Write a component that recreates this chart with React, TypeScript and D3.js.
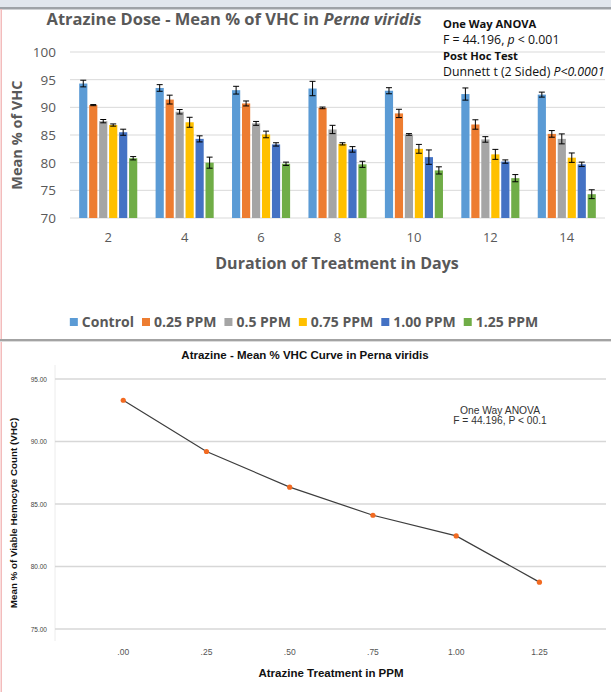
import React from 'react';
import * as d3 from 'd3';

// ---- bar chart data (mean % VHC by day and dose) ----
const days = ['2', '4', '6', '8', '10', '12', '14'];
const doses = ['Control', '0.25 PPM', '0.5 PPM', '0.75 PPM', '1.00 PPM', '1.25 PPM'];
const doseColors = ['#5B9BD5', '#ED7D31', '#A5A5A5', '#FFC000', '#4472C4', '#70AD47'];

const controlMean = [94.3, 93.5, 93.1, 93.4, 93.0, 92.4, 92.3];
const controlErr = [0.6, 0.6, 0.7, 1.3, 0.55, 1.1, 0.45];
const ppm025Mean = [90.4, 91.4, 90.7, 89.9, 88.9, 86.9, 85.2];
const ppm025Err = [0.1, 0.8, 0.45, 0.15, 0.75, 0.85, 0.6];
const ppm05Mean = [87.5, 89.2, 87.1, 86.0, 85.1, 84.2, 84.3];
const ppm05Err = [0.3, 0.4, 0.35, 0.75, 0.15, 0.5, 0.9];
const ppm075Mean = [86.8, 87.3, 85.1, 83.4, 82.5, 81.5, 80.9];
const ppm075Err = [0.2, 0.9, 0.6, 0.2, 0.8, 0.9, 0.85];
const ppm100Mean = [85.5, 84.3, 83.3, 82.4, 81.0, 80.2, 79.7];
const ppm100Err = [0.55, 0.55, 0.3, 0.5, 1.3, 0.3, 0.4];
const ppm125Mean = [80.8, 80.0, 79.8, 79.7, 78.6, 77.2, 74.3];
const ppm125Err = [0.3, 1.0, 0.3, 0.55, 0.65, 0.65, 0.8];

const barTicks = [70, 75, 80, 85, 90, 95, 100];

// ---- curve data (mean over all days) ----
const ppmLevels = [0, 0.25, 0.5, 0.75, 1.0, 1.25];
const ppmTickLabels = ['.00', '.25', '.50', '.75', '1.00', '1.25'];
const curveMean = [93.3, 89.2, 86.35, 84.1, 82.45, 78.75];
const curveTicks = [75, 80, 85, 90, 95];

const W = 611, H = 692;
const GREY = '#595959';
const SANS = '"Open Sans", sans-serif';
const ARIAL = '"Liberation Sans", Arial, sans-serif';

export default function App() {
  const ref = React.useRef<SVGSVGElement>(null);

  React.useEffect(() => {
    if (!ref.current) return;
    const svg = d3.select(ref.current);
    svg.selectAll('*').remove();

    svg.append('rect').attr('width', W).attr('height', H).attr('fill', '#fff');
    // window frame bits
    svg.append('rect').attr('x', 0).attr('y', 0).attr('width', W).attr('height', 7).attr('fill', '#e1e6ed');
    svg.append('rect').attr('x', 0).attr('y', 7).attr('width', W).attr('height', 2.5).attr('fill', '#9ea2a7');
    svg.append('rect').attr('x', 0.5).attr('y', 9).attr('width', 1.5).attr('height', H).attr('fill', '#f3bcbc');

    // ================= bar chart =================
    const series = [
      { mean: controlMean, err: controlErr },
      { mean: ppm025Mean, err: ppm025Err },
      { mean: ppm05Mean, err: ppm05Err },
      { mean: ppm075Mean, err: ppm075Err },
      { mean: ppm100Mean, err: ppm100Err },
      { mean: ppm125Mean, err: ppm125Err },
    ];

    const x0 = d3.scaleBand().domain(days).range([70, 605]).paddingInner(0.24).paddingOuter(0.12);
    const x1 = d3.scaleBand().domain(doses).range([0, x0.bandwidth()]).paddingInner(0.18);
    const y = d3.scaleLinear().domain([70, 100]).range([218, 52]);

    const g1 = svg.append('g');
    g1.selectAll('line.grid').data(barTicks).join('line')
      .attr('x1', 70).attr('x2', 605)
      .attr('y1', d => y(d)).attr('y2', d => y(d))
      .attr('stroke', '#d9d9d9').attr('stroke-width', 1);

    g1.selectAll('text.ytick').data(barTicks).join('text')
      .attr('x', 56).attr('y', d => y(d) + 5)
      .attr('text-anchor', 'end').attr('font-family', SANS).attr('font-size', 13.5)
      .attr('fill', GREY).text(d => d);

    days.forEach((day, i) => {
      const gx = x0(day)!;
      series.forEach((s, j) => {
        const bx = gx + x1(doses[j])!;
        const bw = x1.bandwidth();
        const v = s.mean[i], e = s.err[i];
        g1.append('rect')
          .attr('x', bx).attr('y', y(v)).attr('width', bw).attr('height', y(70) - y(v))
          .attr('fill', doseColors[j]);
        const cx = bx + bw / 2;
        g1.append('path')
          .attr('d', `M${cx},${y(v + e)}V${y(v - e)}M${cx - 3},${y(v + e)}H${cx + 3}M${cx - 3},${y(v - e)}H${cx + 3}`)
          .attr('stroke', '#000').attr('stroke-width', 1).attr('fill', 'none');
      });
      g1.append('text')
        .attr('x', gx + x0.bandwidth() / 2).attr('y', 242)
        .attr('text-anchor', 'middle').attr('font-family', SANS).attr('font-size', 13)
        .attr('fill', GREY).text(day);
    });

    const title = g1.append('text')
      .attr('x', 234).attr('y', 25).attr('text-anchor', 'middle')
      .attr('font-family', SANS).attr('font-size', 16.5).attr('font-weight', 700).attr('fill', GREY);
    title.append('tspan').text('Atrazine Dose - Mean % of VHC in ');
    title.append('tspan').attr('font-style', 'italic').text('Perna viridis');

    g1.append('text')
      .attr('transform', 'translate(22,135) rotate(-90)').attr('text-anchor', 'middle')
      .attr('font-family', SANS).attr('font-size', 14.5).attr('font-weight', 700).attr('fill', GREY)
      .text('Mean % of VHC');

    g1.append('text')
      .attr('x', 337).attr('y', 269).attr('text-anchor', 'middle')
      .attr('font-family', SANS).attr('font-size', 16).attr('font-weight', 700).attr('fill', GREY)
      .text('Duration of Treatment in Days');

    // stats note
    const note = g1.append('g').attr('font-family', SANS).attr('fill', '#111');
    note.append('text').attr('x', 443).attr('y', 28).attr('font-size', 11.2).attr('font-weight', 700).text('One Way ANOVA');
    const fl = note.append('text').attr('x', 443).attr('y', 44).attr('font-size', 12.3);
    fl.append('tspan').text('F = 44.196, ');
    fl.append('tspan').attr('font-style', 'italic').text('p');
    fl.append('tspan').text(' < 0.001');
    note.append('text').attr('x', 443).attr('y', 60).attr('font-size', 11.2).attr('font-weight', 700).text('Post Hoc Test');
    const dl = note.append('text').attr('x', 443).attr('y', 76).attr('font-size', 12.3);
    dl.append('tspan').text('Dunnett t (2 Sided) ');
    dl.append('tspan').attr('font-style', 'italic').text('P<0.0001');

    // legend
    const leg = g1.append('g');
    const items = doses.map((d, j) => {
      const it = leg.append('g');
      it.append('rect').attr('x', 0).attr('y', -4).attr('width', 8).attr('height', 8).attr('fill', doseColors[j]);
      const t = it.append('text').attr('x', 12).attr('y', 5)
        .attr('font-family', SANS).attr('font-size', 14).attr('font-weight', 700).attr('fill', GREY).text(d);
      return { it, w: 12 + (t.node() as SVGTextElement).getComputedTextLength() };
    });
    const gap = 8;
    const total = d3.sum(items, d => d.w) + gap * (items.length - 1);
    let lx = 304 - total / 2;
    items.forEach(({ it, w }) => { it.attr('transform', `translate(${lx},322)`); lx += w + gap; });

    // separator
    svg.append('rect').attr('x', 0).attr('y', 339).attr('width', W).attr('height', 2).attr('fill', '#a3a3a3');
    svg.append('rect').attr('x', 0).attr('y', 341).attr('width', W).attr('height', 1).attr('fill', '#dcdcdc');

    // ================= curve chart =================
    const xs = d3.scaleLinear().domain([-0.205, 1.45]).range([55, 606]);
    const ys = d3.scaleLinear().domain([75, 95]).range([629, 379]);
    const g2 = svg.append('g');

    g2.append('line').attr('x1', 55).attr('x2', 55).attr('y1', 365).attr('y2', 641)
      .attr('stroke', '#ececec').attr('stroke-width', 1);
    g2.selectAll('line.grid').data(curveTicks).join('line')
      .attr('x1', 55).attr('x2', 606)
      .attr('y1', d => ys(d)).attr('y2', d => ys(d))
      .attr('stroke', '#d7d7d7').attr('stroke-width', 1.4);
    g2.selectAll('text.ytick').data(curveTicks).join('text')
      .attr('x', 47).attr('y', d => ys(d) + 2.5).attr('text-anchor', 'end')
      .attr('font-family', ARIAL).attr('font-size', 6.5).attr('fill', '#444')
      .text(d => d.toFixed(2));
    g2.selectAll('text.xtick').data(ppmLevels).join('text')
      .attr('x', d => xs(d)).attr('y', 655).attr('text-anchor', 'middle')
      .attr('font-family', ARIAL).attr('font-size', 8.5).attr('fill', '#555')
      .text((_, i) => ppmTickLabels[i]);

    const pts = ppmLevels.map((p, i) => [xs(p), ys(curveMean[i])] as [number, number]);
    g2.append('path').attr('d', d3.line()(pts)!)
      .attr('fill', 'none').attr('stroke', '#3d3d3d').attr('stroke-width', 1.2);
    g2.selectAll('circle').data(pts).join('circle')
      .attr('cx', d => d[0]).attr('cy', d => d[1]).attr('r', 2.6).attr('fill', '#F26A21');

    g2.append('text').attr('x', 305).attr('y', 359).attr('text-anchor', 'middle')
      .attr('font-family', ARIAL).attr('font-size', 11.5).attr('font-weight', 700).attr('fill', '#111')
      .text('Atrazine - Mean % VHC Curve in Perna viridis');
    g2.append('text').attr('transform', 'translate(17,513) rotate(-90)').attr('text-anchor', 'middle')
      .attr('font-family', ARIAL).attr('font-size', 9.8).attr('font-weight', 700).attr('fill', '#111')
      .text('Mean % of Viable Hemocyte Count (VHC)');
    g2.append('text').attr('x', 331).attr('y', 677).attr('text-anchor', 'middle')
      .attr('font-family', ARIAL).attr('font-size', 11.5).attr('font-weight', 700).attr('fill', '#111')
      .text('Atrazine Treatment in PPM');

    const an = g2.append('g').attr('font-family', ARIAL).attr('font-size', 10.3).attr('fill', '#333')
      .attr('text-anchor', 'middle');
    an.append('text').attr('x', 500).attr('y', 414).text('One Way ANOVA');
    an.append('text').attr('x', 500).attr('y', 424).text('F = 44.196, P < 00.1');
  }, []);

  return (
    <svg ref={ref} width={W} height={H}
      style={{ position: 'absolute', left: 0, top: 0, display: 'block' }} />
  );
}
